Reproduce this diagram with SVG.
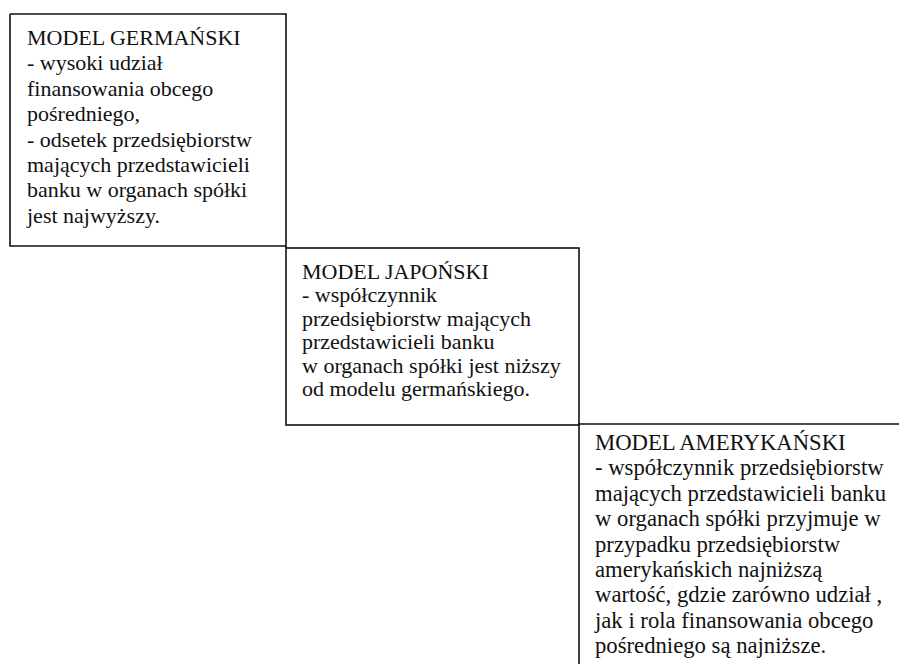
<svg xmlns="http://www.w3.org/2000/svg" width="899" height="664" viewBox="0 0 899 664">
  <style>
    .frame { fill: none; stroke: #111; stroke-width: 1.6; }
    .txt { font-family: "Liberation Serif", "Times New Roman", serif; font-size: 22px; fill: #111; }
    .txt-wide { font-size: 22.7px; }
  </style>
  <rect width="899" height="664" fill="#fff"/>

  <g id="model-germanski">
    <path class="frame" d="M10,14 H286 V248 M286,246 H10 V14"/>
    <text class="txt">
      <tspan x="27" y="45">MODEL GERMAŃSKI</tspan>
      <tspan x="27" y="70.4">- wysoki udział</tspan>
      <tspan x="27" y="95.8">finansowania obcego</tspan>
      <tspan x="27" y="121.2">pośredniego,</tspan>
      <tspan x="27" y="146.6">- odsetek przedsiębiorstw</tspan>
      <tspan x="27" y="172">mających przedstawicieli</tspan>
      <tspan x="27" y="197.4">banku w organach spółki</tspan>
      <tspan x="27" y="222.8">jest najwyższy.</tspan>
    </text>
  </g>

  <g id="model-japonski">
    <rect class="frame" x="286" y="248" width="293" height="177"/>
    <text class="txt">
      <tspan x="302" y="279">MODEL JAPOŃSKI</tspan>
      <tspan x="302" y="302.4">- współczynnik</tspan>
      <tspan x="302" y="325.8">przedsiębiorstw mających</tspan>
      <tspan x="302" y="349.2">przedstawicieli banku</tspan>
      <tspan x="302" y="372.6">w organach spółki jest niższy</tspan>
      <tspan x="302" y="396">od modelu germańskiego.</tspan>
    </text>
  </g>

  <g id="model-amerykanski">
    <path class="frame" d="M899,424 H579 V664"/>
    <text class="txt txt-wide">
      <tspan x="595" y="450">MODEL AMERYKAŃSKI</tspan>
      <tspan x="595" y="475.4">- współczynnik przedsiębiorstw</tspan>
      <tspan x="595" y="500.8">mających przedstawicieli banku</tspan>
      <tspan x="595" y="526.2">w organach spółki przyjmuje w</tspan>
      <tspan x="595" y="551.6">przypadku przedsiębiorstw</tspan>
      <tspan x="595" y="577">amerykańskich najniższą</tspan>
      <tspan x="595" y="602.4">wartość, gdzie zarówno udział ,</tspan>
      <tspan x="595" y="627.8">jak i rola finansowania obcego</tspan>
      <tspan x="595" y="653.2">pośredniego są najniższe.</tspan>
    </text>
  </g>
</svg>
